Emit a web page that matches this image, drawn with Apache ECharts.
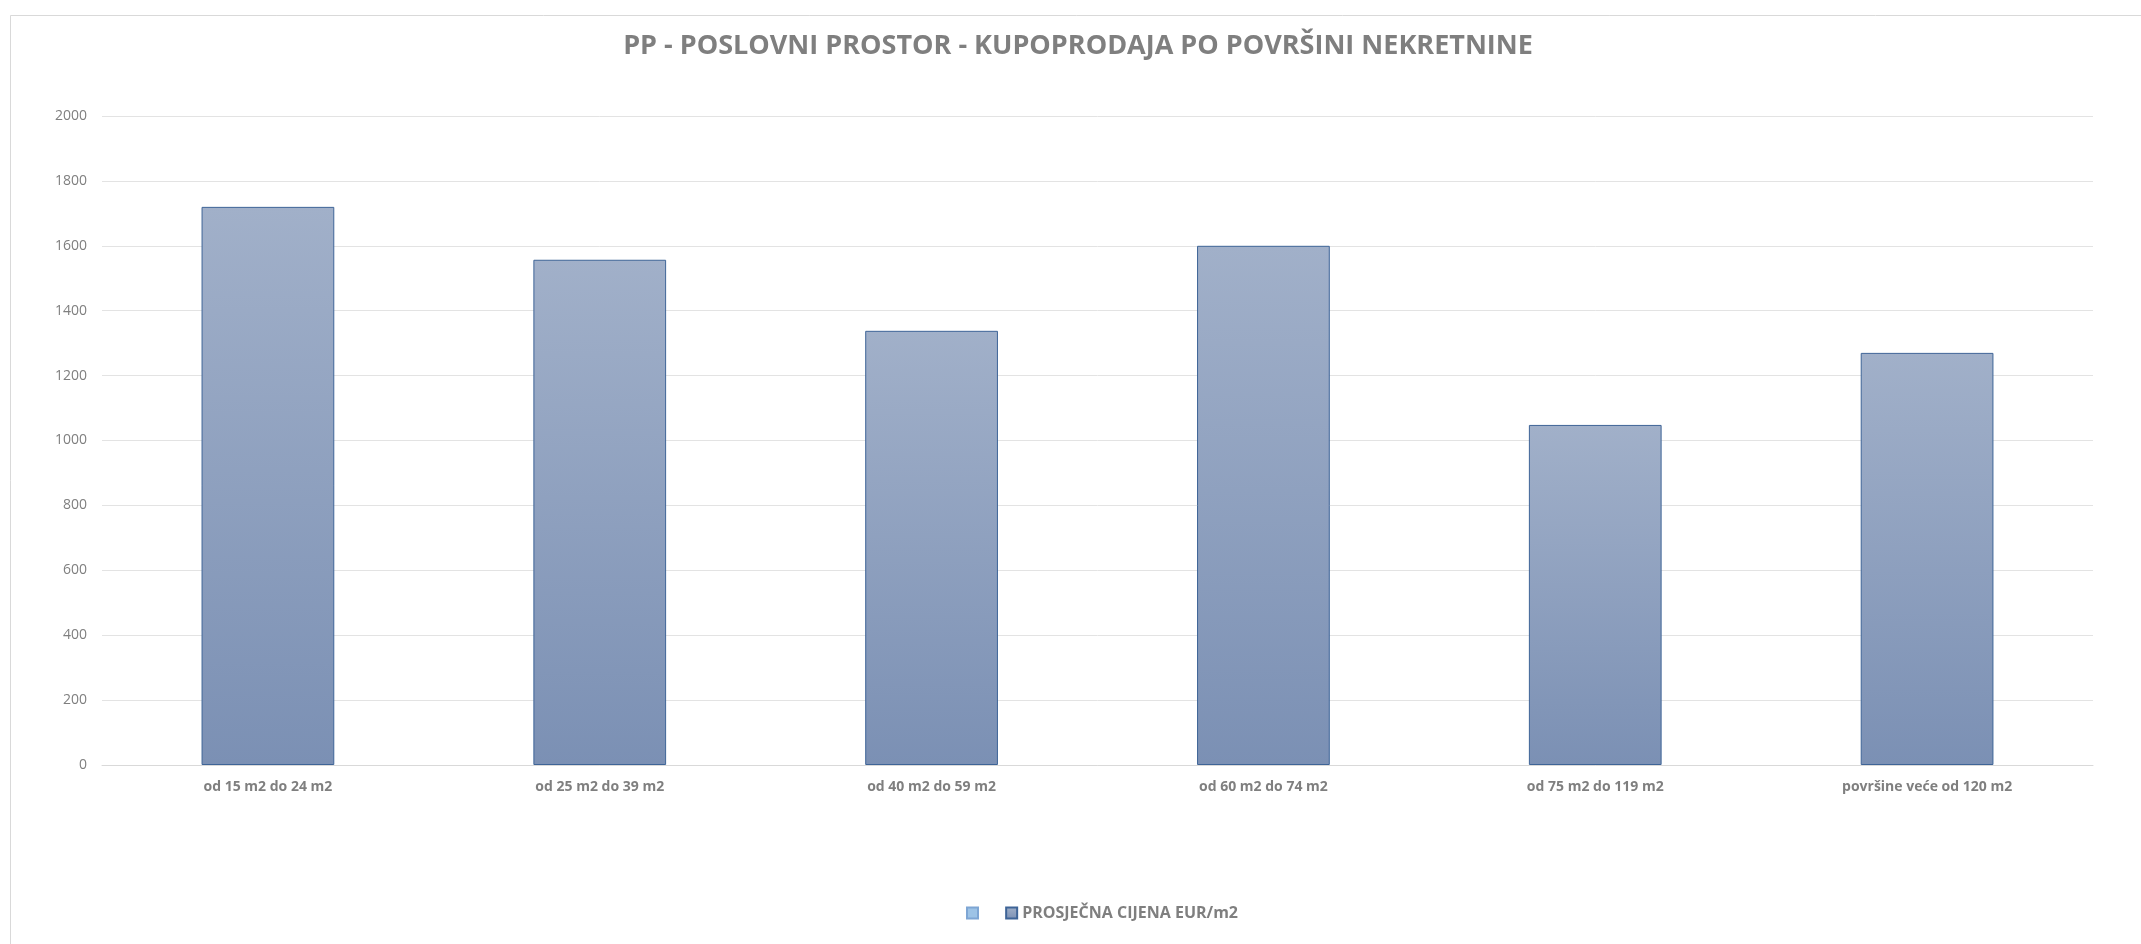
<!DOCTYPE html>
<html>
<head>
<meta charset="utf-8">
<title>PP - Poslovni prostor</title>
<script src="https://cdn.jsdelivr.net/npm/echarts@6/dist/echarts.min.js"></script>
<style>
  html, body { margin: 0; padding: 0; background: #fff; }
  #chart { width: 2141px; height: 944px; }
</style>
</head>
<body>
<div id="chart"></div>
<script>
// categories (x axis)
var categories = ['od 15 m2 do 24 m2', 'od 25 m2 do 39 m2', 'od 40 m2 do 59 m2',
                  'od 60 m2 do 74 m2', 'od 75 m2 do 119 m2', 'površine veće od 120 m2'];
// average price EUR/m2
var avgPrice = [1720, 1557, 1338, 1600, 1048, 1270];
var yTicks = [0, 200, 400, 600, 800, 1000, 1200, 1400, 1600, 1800, 2000];

var chart = echarts.init(document.getElementById('chart'));

chart.setOption({
  backgroundColor: '#fff',
  animation: false,
  textStyle: { fontFamily: 'Open Sans' },
  graphic: [{
    type: 'rect',
    silent: true,
    shape: { x: 10.5, y: 15.5, width: 2200, height: 1000 },
    style: { fill: 'none', stroke: '#d9d9d9', lineWidth: 1 }
  }],
  title: {
    text: 'PP - POSLOVNI PROSTOR - KUPOPRODAJA PO POVRŠINI NEKRETNINE',
    left: 1073,
    textAlign: 'center',
    top: 28,
    textStyle: { color: '#7f7f7f', fontSize: 27, fontWeight: 'bold', fontFamily: 'Open Sans' }
  },
  legend: {
    bottom: 18,
    left: 961,
    itemWidth: 11,
    itemHeight: 11,
    itemGap: 18,
    icon: 'rect',
    data: [' ', 'PROSJEČNA CIJENA EUR/m2'],
    textStyle: { color: '#7f7f7f', fontSize: 16, fontWeight: 'bold', fontFamily: 'Open Sans' }
  },
  grid: { left: 102, right: 48, top: 116, bottom: 179 },
  xAxis: {
    type: 'category',
    data: categories,
    axisTick: { show: false },
    axisLine: { lineStyle: { color: '#d9d9d9' } },
    axisLabel: { color: '#7f7f7f', fontSize: 14, fontWeight: 'bold', margin: 15 }
  },
  yAxis: {
    type: 'value',
    min: yTicks[0],
    max: yTicks[yTicks.length - 1],
    interval: 200,
    axisLine: { show: false },
    axisTick: { show: false },
    axisLabel: { color: '#7f7f7f', fontSize: 14, margin: 15, formatter: function (v) { return String(v); } },
    splitLine: { lineStyle: { color: '#e3e3e3', width: 1 } }
  },
  series: [
    {
      name: ' ',
      type: 'line',
      data: [],
      itemStyle: { color: '#9dc3e6', borderColor: '#7ea6d4', borderWidth: 1 }
    },
    {
      name: 'PROSJEČNA CIJENA EUR/m2',
      type: 'bar',
      barWidth: '40%',
      data: avgPrice,
      itemStyle: {
        color: new echarts.graphic.LinearGradient(0, 0, 0, 1, [
          { offset: 0, color: '#a1b0c9' },
          { offset: 1, color: '#7b90b4' }
        ]),
        borderColor: '#3e6497',
        borderWidth: 1
      }
    }
  ]
});
</script>
</body>
</html>
